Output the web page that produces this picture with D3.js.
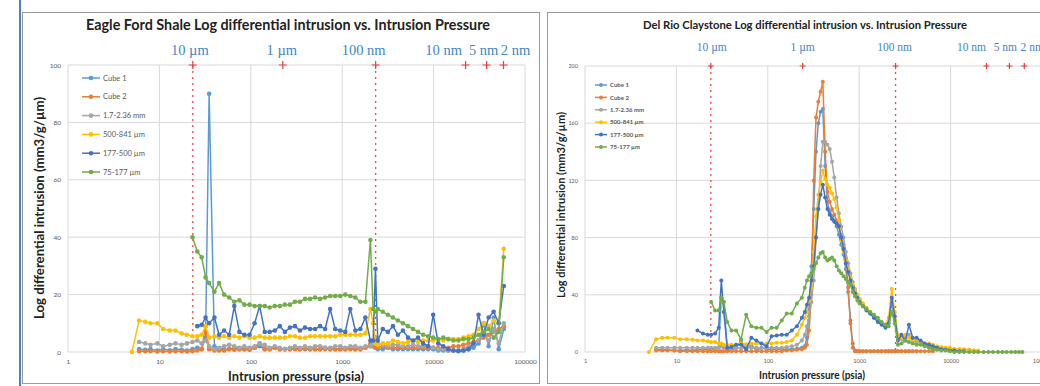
<!DOCTYPE html>
<html><head><meta charset="utf-8">
<script src="https://cdn.jsdelivr.net/npm/d3@7"></script>
<style>body{margin:0;background:#fff}svg{display:block}</style>
</head><body><svg id="c" width="1040" height="386"></svg>
<script>
// ---------- shared ----------
const seriesNames = ["Cube 1","Cube 2","1.7-2.36 mm","500-841 µm","177-500 µm","75-177 µm"];
const seriesColors = ["#5b9bd5","#ed7d31","#a5a5a5","#ffc000","#4472c4","#70ad47"];
const xTicks = [1,10,100,1000,10000,100000];
const yTicksLeft = [0,20,40,60,80,100];
const yTicksRight = [0,40,80,120,160,200];
const poreLabels = ["10 µm","1 µm","100 nm","10 nm","5 nm","2 nm"];
const poreDashed = [true,false,true,false,false,false];
const porePressLeft = [23.2,224,2323,22400,38000,58200];
const porePressRight = [23.8,241,2500,24700,44000,64000];

// ---------- Eagle Ford Shale ----------
const pressLeft = [5,6,7,8,9.5,11,13,15,17.5,20,23,26,29,32,35,40,45,51,58,66,75,85,97,110,125,142,161,183,208,236,268,304,345,392,445,505,573,650,738,838,951,1080,1226,1392,1580,1794,2036,2180,2310,2450,2780,3160,3590,4070,4620,5250,5960,6760,7680,8720,9900,11240,12760,14490,16450,18680,21200,24070,27330,31030,35230,40000,45400,51600,58600];
const efCube1 = [null,1,0.8,1,0.5,1,0.6,1,0.8,0.5, 1,1.5,1,5,90,2,1,1,1,1.5, 1,1,1,1.5,2,1,1,1.5,1,1, 1,1.5,1,1,1,1,1,1.5,1,1, 1,1,1.5,1,1,1.5,2,2,1.5,1, 1,1.5,1,1,1,1,1,1,1,1, 1,0.5,0.5,0.5,0.5,0.5,0.5,1,1.5,3, 10,2,12,1,8];
const efCube2 = [null,0.3,0.3,0.3,0.2,0.3,0.2,0.3,0.3,0.2, 0.3,0.5,1,9,1,0.5,0.5,0.5,1,0.8, 1,1,0.8,1.5,3,1,1,1.5,1,1, 1,1,1,1.2,1,1,1,1,1,1, 1,1,1,1,1,1.5,3,2,1.5,1.5, 2,1.5,1.5,1.5,1.5,1.5,1.5,1.5,1.5,1.5, 1.5,1.5,1.5,1.5,2,2,2.5,3,3.5,4, 5,6,7,8,9];
const efMm = [null,3.5,3,2.5,3,2,2.5,3,2.5,3, 3.5,4,3,4,2,1,1.5,2,2.5,2, 1.5,2,1.5,2,3,2.5,1.5,2,1.5,1, 1.5,2,1.5,2,1.5,2,2,1.5,1.5,2, 2,1.5,2,2,1.5,2,2,3,5,3, 2.5,2,2.5,2.5,2,2,2.5,2,2,2, 1.5,1,1,0.5,0.5,0.5,1,2,3,4, 6,4,8,3,10];
const ef500 = [0,11,10.5,10,10,8,7.5,7.5,6.5,6, 5.5,5.5,6,9,5,5.5,5,5.5,5,5.5, 5,5.5,5,5,5.5,5,5,5,5,5, 5.5,5.5,5,5,5.5,5.5,5.5,5.5,5.5,5.5, 6,6,6,6,6,6.5,15,10,3,2.5, 3,3,4,3.5,3,3.5,4,3.5,4,4, 4,4.5,4,4.5,4.5,4.5,5,5.5,6,8, 10,9,11,10,36];
const ef177 = [null,null,null,null,null,null,null,null,null,null, null,9,9.5,12,10,12,6,7.5,6,16, 7,6,6,10,16,7,7,7.5,9,7, 8.5,9,7.5,8.5,8,8,9,8,15,8, 7.5,7,15,7.5,8,12,4,4,29,4, 8,7,9,6,7.5,5,4,5,3,2, 13,3,2,1,0.5,0.3,0.5,1,3,13, 6,12,14,10,23];
const ef75 = [null,null,null,null,null,null,null,null,null,null, 40,35,33,26,24,21,24,20,19,17.5, 18,16.5,16.5,16,16,16,15.5,16,16,16.5, 16.5,17.5,17.5,18.5,18.5,19,18.5,19,19.5,19.5, 19.5,20,19.5,19,17.5,17.5,39,15,14,15, 14,13,12,11,10,9,8,7,6,5.5, 5,4.5,5,4.5,4,4,4.5,4.5,5,6, 7,8,5,7,33];

// ---------- Del Rio Claystone ----------
const pressRight = [5,6,7,8,9.5,11,13,15,17,19.5,22,24,26.5,29,31,33,36,40,45,51,58,66,75,85,97,110,125,142,161,183,208,236,254,268,283,300,318,337,357,378,400,424,449,476,504,534,566,600,636,674,714,757,802,850,900,955,1012,1100,1200,1320,1450,1600,1760,1940,2100,2270,2450,2650,2900,3200,3500,3850,4250,4700,5200,5800,6400,7100,7900,8800,9800,11000,12500,14000,16000,18000,20000,23000,26000,29000,33000,37000,41000,46000,51000,56000,61000];
const drCube1 = [null,2,1.5,1.5,1,1,1.5,1,1.5,2, 2,2,2.5,3,38,35,2,1,3,8, 2,5,1,3,2,2,2,2,2,2, 2.5,3,4,10,30,60,100,140,160,168, 170,130,105,98,95,92,88,82,75,68, 58,42,22,6,1,0.5,0.5,0.5,0.5,0.5, 0.5,0.5,0.5,0.5,0.5,0.5,0.5,0.5,0.5,0.5, 0.5,0.5,0.5,null,null,null,null,null,null,null, null,null,null,null,null,null,null,null,null,null, null,null,null,null,null,null,null];
const drCube2 = [null,1,1,1,1,0.5,0.5,0.5,0.5,0.5, 0.5,0.5,0.5,0.5,0.5,0.5,0.5,0.5,0.5,0.5, 0.5,0.5,0.5,0.5,0.5,0.5,0.5,0.5,1,1, 1.5,2,3,5,15,40,120,164,175,182, 189,140,112,105,100,96,92,88,82,75, 65,45,20,3,0.5,0.5,0.5,0.5,0.5,0.5, 0.5,0.5,0.5,0.5,0.5,0.5,0.5,0.5,0.5,0.5, 0.5,0.5,0.5,0.5,0.5,0.5,0.5,null,null,null, null,null,null,null,null,null,null,null,null,null, null,null,null,null,null,null,null];
const drMm = [null,3,3,3,3,3,3,3,3,3, 3,3,3,3,4,3,3,2.5,3,2.5, 3,3,3,2.5,3,3,3,3,3.5,4, 5,8,12,18,25,35,50,80,100,130, 147,147,145,142,133,122,108,97,88,80, 70,62,55,49,44,40,37,33,30,27, 24,22,20,19,22,34,22,10,9,10, 12,8,7,6,5,4,3.5,3,3,2.5, 2,2,2,1.5,1.5,1,null,null,null,null, null,null,null,null,null,null,null];
const dr500 = [0,9,10,10,10,9,9,8.5,8,8, 7.5,7,7,6,6,5,5,5,5,6, 5.5,6,6,6,6,6,6.5,6.5,7,8, 12,19,24,28,36,45,70,95,110,119, 127,121,117,115,111,107,101,92,78,70, 64,58,52,47,43,40,37,34,31,28, 25,22,20,19,24,44,28,12,10,12, 10,8,9,7,6,6,5,4,3.5,3, 3,2,2,2,1.5,1,1,null,null,null, null,null,null,null,null,null,null];
const dr177 = [null,null,null,null,null,null,null,null,15,13, 12,12,13,17,50,28,3,3.5,5,5, 2,10,8,6,4,11,11.5,12,12,15, 18,24,28,33,38,50,60,80,100,110, 117,108,100,96,93,91,90,88,80,72, 62,56,50,45,41,38,35,32,29,27, 24,21,19,17,20,38,25,8,12,8, 19,10,10,8,6,5,4,3,2,1.5, 1,1,0.5,0.5,null,null,null,null,null,null, null,null,null,null,null,null,null];
const dr75 = [null,null,null,null,null,null,null,null,null,null, null,35,29,29,38,35,21,15,15,9, 26,18,17,17,14,17,17,22,27,27, 34,38,45,50,53,55,58,62,66,69, 70,66,64,65,66,64,60,57,55,53, 51,49,47,42,39,36,34,32,30,28, 26,24,21,19,18,28,20,5,6,8, 7,6,5,5,4,3,2,1.5,1,1, 0.5,0,0,0,0,0,0,0,0,0, 0,0,0,0,0,0,0];

// ---------- panels (built from the arrays above) ----------
const panels = [
  { title: "Eagle Ford Shale Log differential intrusion vs. Intrusion Pressure",
    press: pressLeft, series: [efCube1, efCube2, efMm, ef500, ef177, ef75],
    yMax: 100, yTicks: yTicksLeft, pores: porePressLeft,
    frame: [22.5, 12.5, 517, 371], plot: [68, 65, 525, 352],
    titleX: 288, titleY: 30, titleSize: 15, titleLen: 404,
    poreY: 55, poreSize: 14.5, poreDx: [-3,-1,-12,-22,-3,12], plusR: 4,
    yTitleX: 44, yTitleY: 208, yTitleSize: 12.5, yTitleLen: 222,
    xTitleX: 296, xTitleY: 381, xTitleSize: 13.5, xTitleLen: 136,
    tickSize: 6.5, legX: 82, legY: 78, legDy: 18.8, legW: 18, legSize: 7.5, legBold: false, markR: 2.3 },
  { title: "Del Rio Claystone Log differential intrusion vs. Intrusion Pressure",
    press: pressRight, series: [drCube1, drCube2, drMm, dr500, dr177, dr75],
    yMax: 200, yTicks: yTicksRight, pores: porePressRight,
    frame: [547.5, 12.5, 520, 371], plot: [585, 66, 1042, 352],
    titleX: 805, titleY: 29, titleSize: 12, titleLen: 324,
    poreY: 51, poreSize: 11.5, poreDx: [1,0,-1,-15,-4,8], plusR: 3,
    yTitleX: 565, yTitleY: 205, yTitleSize: 10.5, yTitleLen: 186,
    xTitleX: 812, xTitleY: 379, xTitleSize: 11, xTitleLen: 106,
    tickSize: 5.5, legX: 595, legY: 85, legDy: 12.4, legW: 12, legSize: 6, legBold: true, markR: 2 }
];

const SANS = "Lato, 'Open Sans', sans-serif";
const SERIF = "'Liberation Serif', 'DejaVu Serif', serif";
const svg = d3.select("#c");
svg.append("rect").attr("width",1040).attr("height",386).attr("fill","#fff");
svg.append("line").attr("x1",20).attr("x2",20).attr("y1",0).attr("y2",386).attr("stroke","#4f81bd").attr("stroke-width",2);

panels.forEach(p => {
  const g = svg.append("g");
  g.append("rect").attr("x",p.frame[0]).attr("y",p.frame[1]).attr("width",p.frame[2]).attr("height",p.frame[3])
    .attr("fill","#fff").attr("stroke","#9a9a9a").attr("stroke-width",1);
  const [px0,py0,px1,py1] = p.plot;
  const x = d3.scaleLog().domain([1,100000]).range([px0,px1]);
  const y = d3.scaleLinear().domain([0,p.yMax]).range([py1,py0]);

  // gridlines
  g.append("g").selectAll("line").data(p.yTicks).join("line")
    .attr("x1",px0).attr("x2",px1).attr("y1",d=>y(d)).attr("y2",d=>y(d)).attr("stroke","#d9d9d9");
  g.append("g").selectAll("line").data(xTicks).join("line")
    .attr("x1",d=>x(d)).attr("x2",d=>x(d)).attr("y1",py0).attr("y2",py1).attr("stroke","#d9d9d9");

  // axes (labels only)
  const ya = g.append("g").attr("transform",`translate(${px0-4},0)`)
    .call(d3.axisLeft(y).tickValues(p.yTicks).tickSize(0).tickPadding(3));
  ya.select(".domain").remove();
  ya.selectAll("text").attr("font-size",p.tickSize).attr("fill","#595959").style("font-family",SANS);
  const xa = g.append("g").attr("transform",`translate(0,${py1+5})`)
    .call(d3.axisBottom(x).tickValues(xTicks).tickFormat(d3.format("d")).tickSize(0).tickPadding(2));
  xa.select(".domain").remove();
  xa.selectAll("text").attr("font-size",p.tickSize).attr("fill","#595959").style("font-family",SANS);

  // pore size markers
  p.pores.forEach((pp,i) => {
    const cx = x(pp);
    if (poreDashed[i]) g.append("line").attr("x1",cx).attr("x2",cx).attr("y1",py0).attr("y2",py1)
      .attr("stroke","#f04848").attr("stroke-width",1.3).attr("stroke-dasharray","2,4");
    g.append("path").attr("d",`M${cx-p.plusR},${py0}H${cx+p.plusR}M${cx},${py0-p.plusR}V${py0+p.plusR}`)
      .attr("stroke","#f03a3a").attr("stroke-width",1.2);
    g.append("text").attr("x",cx+p.poreDx[i]).attr("y",p.poreY).attr("text-anchor","middle")
      .style("font-family",SERIF).attr("font-size",p.poreSize)
      .attr("fill","#3f86c6").text(poreLabels[i]);
  });

  // series
  const clip = "clip"+px0;
  g.append("clipPath").attr("id",clip).append("rect").attr("x",px0-3).attr("y",py0-6).attr("width",px1-px0+6).attr("height",py1-py0+9);
  const sg = g.append("g").attr("clip-path",`url(#${clip})`);
  p.series.forEach((vals,si) => {
    const pts = p.press.map((pr,i)=>[pr,vals[i]]).filter(d=>d[1]!==null && d[1]!==undefined);
    const line = d3.line().x(d=>x(d[0])).y(d=>y(d[1]));
    sg.append("path").attr("d",line(pts)).attr("fill","none").attr("stroke",seriesColors[si]).attr("stroke-width",1.5).attr("stroke-linejoin","round");
    sg.append("g").selectAll("circle").data(pts).join("circle")
      .attr("cx",d=>x(d[0])).attr("cy",d=>y(d[1])).attr("r",p.markR).attr("fill",seriesColors[si]);
  });

  // legend
  seriesNames.forEach((n,i) => {
    const ly = p.legY + i*p.legDy;
    g.append("line").attr("x1",p.legX).attr("x2",p.legX+p.legW).attr("y1",ly).attr("y2",ly).attr("stroke",seriesColors[i]).attr("stroke-width",1.5);
    g.append("circle").attr("cx",p.legX+p.legW/2).attr("cy",ly).attr("r",p.markR).attr("fill",seriesColors[i]);
    g.append("text").attr("x",p.legX+p.legW+3).attr("y",ly).attr("dy","0.35em").attr("font-size",p.legSize)
      .style("font-family",SANS).attr("font-weight",p.legBold?"bold":"normal").attr("fill","#595959").text(n);
  });

  // titles
  g.append("text").attr("x",p.titleX).attr("y",p.titleY).attr("text-anchor","middle").attr("font-weight","bold").style("font-family",SANS)
    .attr("font-size",p.titleSize).attr("fill","#222").attr("textLength",p.titleLen).attr("lengthAdjust","spacingAndGlyphs").text(p.title);
  g.append("text").attr("transform",`translate(${p.yTitleX},${p.yTitleY}) rotate(-90)`).attr("text-anchor","middle").attr("font-weight","bold").style("font-family",SANS)
    .attr("font-size",p.yTitleSize).attr("fill","#222").attr("textLength",p.yTitleLen).attr("lengthAdjust","spacingAndGlyphs").text("Log differential intrusion (mm3/g/µm)");
  g.append("text").attr("x",p.xTitleX).attr("y",p.xTitleY).attr("text-anchor","middle").attr("font-weight","bold").style("font-family",SANS)
    .attr("font-size",p.xTitleSize).attr("fill","#222").attr("textLength",p.xTitleLen).attr("lengthAdjust","spacingAndGlyphs").text("Intrusion pressure (psia)");
});
</script></body></html>
